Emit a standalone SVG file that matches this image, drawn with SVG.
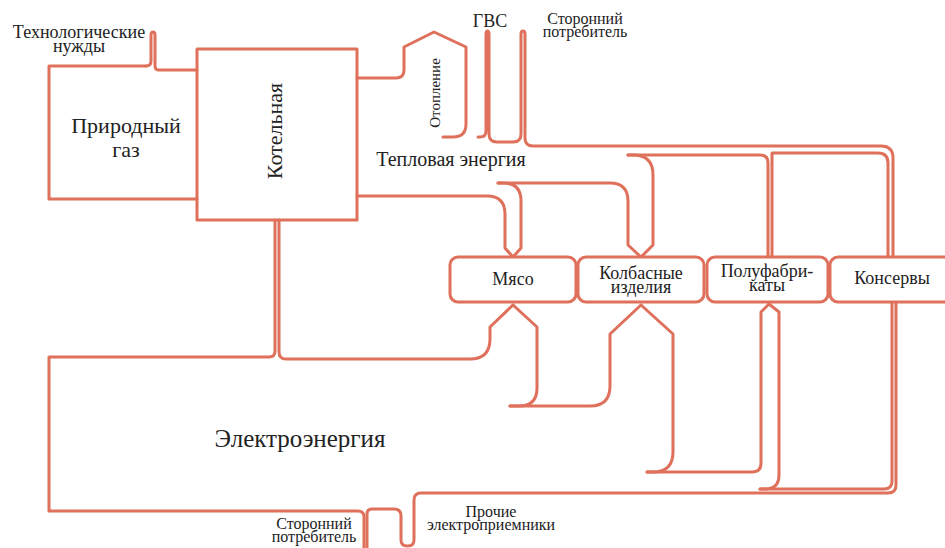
<svg xmlns="http://www.w3.org/2000/svg" width="945" height="548" viewBox="0 0 945 548">
<style>
.ln{fill:none;stroke:#DF705B;stroke-width:3;stroke-linejoin:round;stroke-linecap:round}
.bx{fill:#fff;stroke:#DF705B;stroke-width:3}
text{font-family:"Liberation Serif","Times New Roman",serif;fill:#222}
.c{text-anchor:middle}
</style>
<rect width="945" height="548" fill="#fff"/>
<g id="connectors">
<path class="ln" d="M146,66 Q151,66 151,61 V35 Q151,32 153,32 Q155,32 155,35 V66 Q155,70 159,70 H197"/>
<path class="ln" d="M357,78 H396 Q404,78 404,70 V47 L434,32 L466,47 V124 Q466,137 453,137 H443"/>
<path class="ln" d="M478,137 H480 Q486,137 486,131 V34 Q486,31 487.5,31 Q489,31 489,34 V134 Q489,142 497,142 H513 Q521,142 521,134 V34 Q521,31 523,31 Q525,31 525,34 V138 Q525,146 533,146 H881 Q893,146 893,158 V257"/>
<path class="ln" d="M772,257 V153 H878 Q888,153 888,163 V257"/>
<path class="ln" d="M628,155 H633 Q653,155 653,175 V245 L641,257"/>
<path class="ln" d="M628,155 H760 Q768,155 768,163 V257"/>
<path class="ln" d="M498,183 H503 Q521,183 521,201 V248 L513,257"/>
<path class="ln" d="M498,183 H610 Q628,183 628,201 V245 L641,257"/>
<path class="ln" d="M357,196 H487 Q505,196 505,214 V248 L513,257"/>
<path class="ln" d="M275,220 V351 Q275,357 269,357 H49 V511 H358 Q364,511 364,517 V548"/>
<path class="ln" d="M279,220 V352 Q279,359 286,359 H470 Q490,359 490,339 V327 L513,305"/>
<path class="ln" d="M510,406 H519 Q537,406 537,388 V327 L513,305"/>
<path class="ln" d="M510,406 H590 Q610,406 610,386 V334 L641,305"/>
<path class="ln" d="M647,472 H653 Q673,472 673,452 V334 L641,305"/>
<path class="ln" d="M647,472 H752 Q761,472 761,463 V312 L769,304"/>
<path class="ln" d="M760,489 H765 Q779,489 779,475 V312 L769,304"/>
<path class="ln" d="M760,489 H884 Q892,489 892,481 V303"/>
<path class="ln" d="M367,548 V514 Q367,509 372,509 H394 Q401,509 401,516 V540 Q401,546 407.5,546 Q414,546 414,540 V500 Q414,493 421,493 H888 Q896,493 896,485 V303"/>
</g>
<g id="gas">
<path class="ln" d="M197,199 H49 V66 H146"/>
<text class="c" x="126" y="133" font-size="22">Природный</text>
<text class="c" x="126" y="157" font-size="22">газ</text>
</g>
<g id="kotelnaya">
<rect class="ln" x="197" y="49" width="160" height="171"/>
<text class="c" font-size="22" transform="translate(282,131) rotate(-90)">Котельная</text>
</g>
<g id="myaso">
<rect class="bx" x="450" y="257" width="126" height="45" rx="8"/>
<text class="c" x="513" y="285" font-size="18">Мясо</text>
</g>
<g id="kolbasnye">
<rect class="bx" x="578" y="257" width="126" height="45" rx="8"/>
<text class="c" x="641" y="279" font-size="18">Колбасные</text>
<text class="c" x="641" y="293" font-size="18">изделия</text>
</g>
<g id="polufabrikaty">
<rect class="bx" x="707" y="257" width="121" height="45" rx="8"/>
<text class="c" x="767" y="277" font-size="18">Полуфабри-</text>
<text class="c" x="767" y="291" font-size="18">каты</text>
</g>
<g id="konservy">
<rect class="bx" x="830" y="257" width="130" height="45" rx="8"/>
<text class="c" x="892" y="284" font-size="18">Консервы</text>
</g>
<g id="labels">
<text class="c" x="79" y="38" font-size="18">Технологические</text>
<text class="c" x="79" y="52" font-size="18">нужды</text>
<text class="c" font-size="15" transform="translate(440,93) rotate(-90)">Отопление</text>
<text class="c" x="490" y="27" font-size="18">ГВС</text>
<text class="c" x="585" y="24" font-size="16">Сторонний</text>
<text class="c" x="585" y="37" font-size="16">потребитель</text>
<text class="c" x="451" y="166" font-size="20">Тепловая энергия</text>
<text class="c" x="300" y="447" font-size="25">Электроэнергия</text>
<text class="c" x="314" y="529" font-size="16">Сторонний</text>
<text class="c" x="314" y="542" font-size="16">потребитель</text>
<text class="c" x="491" y="517" font-size="16">Прочие</text>
<text class="c" x="491" y="530" font-size="16">электроприемники</text>
</g>
</svg>
